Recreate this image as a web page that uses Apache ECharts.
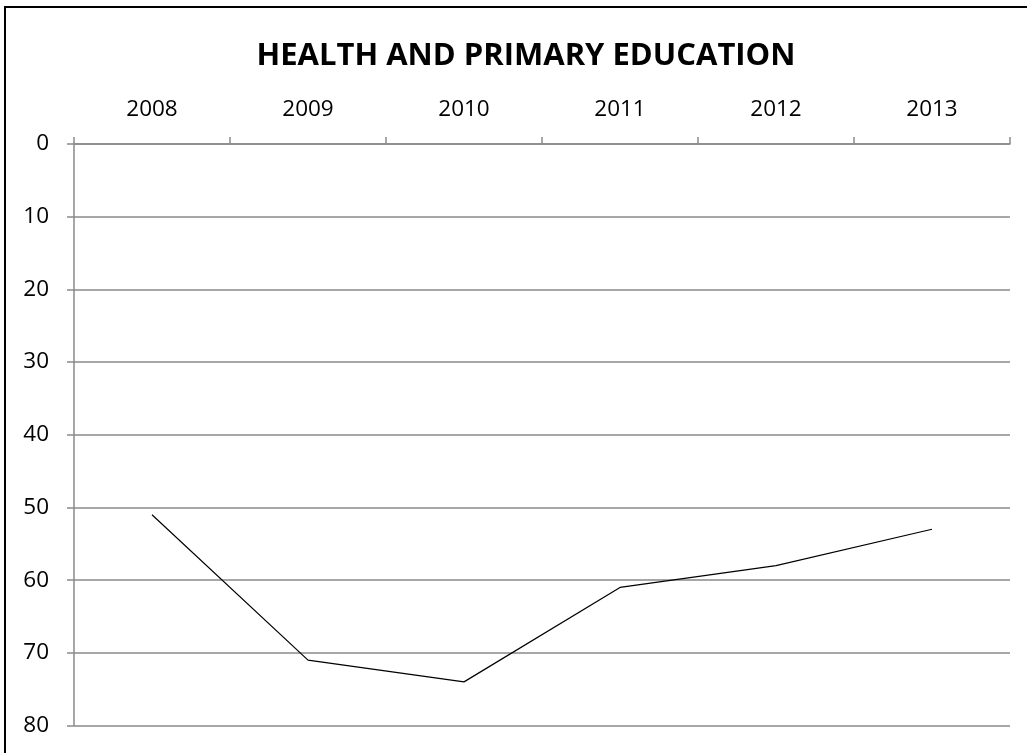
<!DOCTYPE html>
<html>
<head>
<meta charset="utf-8">
<script src="https://cdn.jsdelivr.net/npm/echarts@6/dist/echarts.min.js"></script>
<style>
  html, body { margin: 0; padding: 0; background: #fff; }
  #chart { width: 1027px; height: 753px; }
</style>
</head>
<body>
<div id="chart"></div>
<script>
const titleText = 'HEALTH AND PRIMARY EDUCATION';
const categories = ['2008', '2009', '2010', '2011', '2012', '2013'];
const values = [51, 71, 74, 61, 58, 53];
const yMin = 0, yMax = 80, yStep = 10;

const chart = echarts.init(document.getElementById('chart'), null, { renderer: 'canvas' });
const font = '"Open Sans", "Noto Sans", sans-serif';
const axisGray = '#8a8a8a';

chart.setOption({
  animation: false,
  backgroundColor: '#ffffff',
  title: {
    text: titleText,
    left: 521,
    textAlign: 'center',
    top: 36,
    textStyle: { fontFamily: font, fontWeight: 'bold', fontSize: 31, color: '#000' }
  },
  graphic: [{
    type: 'rect',
    shape: { x: 5, y: 7, width: 1200, height: 1000 },
    style: { fill: 'none', stroke: '#000', lineWidth: 2 },
    silent: true
  }],
  grid: { left: 74, right: 17, top: 144, bottom: 27.5, containLabel: false },
  xAxis: {
    type: 'category',
    position: 'top',
    data: categories,
    boundaryGap: true,
    axisLine: { show: true, lineStyle: { color: axisGray, width: 1.5 } },
    axisTick: { show: true, length: 7, alignWithLabel: false, lineStyle: { color: axisGray, width: 1.5 } },
    axisLabel: { margin: 23, fontFamily: font, fontSize: 22.5, color: '#000' },
    splitLine: { show: false }
  },
  yAxis: {
    type: 'value',
    inverse: true,
    min: yMin, max: yMax, interval: yStep,
    axisLine: { show: true, lineStyle: { color: axisGray, width: 1.5 } },
    axisTick: { show: true, length: 7, lineStyle: { color: axisGray, width: 1.5 } },
    axisLabel: { margin: 25, fontFamily: font, fontSize: 22.5, color: '#000' },
    splitLine: { show: true, lineStyle: { color: axisGray, width: 1.5 } }
  },
  series: [{
    type: 'line',
    data: values,
    showSymbol: false,
    symbol: 'none',
    lineStyle: { color: '#000', width: 1.2 },
    itemStyle: { color: '#000' }
  }]
});
</script>
</body>
</html>
